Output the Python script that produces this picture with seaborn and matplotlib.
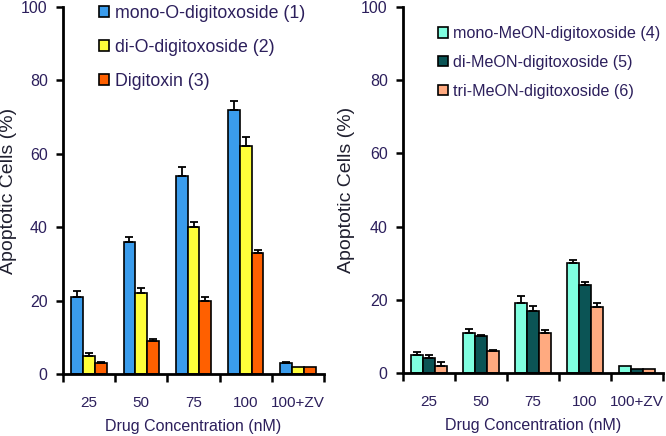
import matplotlib
matplotlib.use("Agg")
import matplotlib.pyplot as plt
import seaborn as sns
import pandas as pd
import numpy as np

concentrations = ["25", "50", "75", "100", "100+ZV"]

left_names = ["mono-O-digitoxoside (1)", "di-O-digitoxoside (2)", "Digitoxin (3)"]
mono_o = [21, 36, 54, 72, 3]
mono_o_err = [1.7, 1.3, 2.5, 2.5, 0.2]
di_o = [5, 22, 40, 62, 2]
di_o_err = [0.7, 1.5, 1.5, 2.5, 0.0]
digitoxin = [3, 9, 20, 33, 2]
digitoxin_err = [0.3, 0.5, 1.0, 0.8, 0.0]

right_names = ["mono-MeON-digitoxoside (4)", "di-MeON-digitoxoside (5)", "tri-MeON-digitoxoside (6)"]
mono_meon = [5, 11, 19, 30, 2]
mono_meon_err = [0.7, 1.0, 2.0, 1.0, 0.0]
di_meon = [4, 10, 17, 24, 1]
di_meon_err = [1.0, 0.3, 1.3, 1.0, 0.0]
tri_meon = [2, 6, 11, 18, 1]
tri_meon_err = [1.0, 0.3, 0.7, 1.0, 0.0]

left_colors = ["#3A9CEC", "#FFFF3A", "#FF6000"]
right_colors = ["#80FFE0", "#0B5455", "#FFAA80"]

sns.set_style("ticks")
plt.rcParams["font.family"] = ["Liberation Sans", "DejaVu Sans"]
TXT = "#2c1f5c"

fig = plt.figure(figsize=(6.66, 4.36), dpi=100)
ax1 = fig.add_axes([63/666, 1-374/436, (324-63)/666, (374-7)/436])
ax2 = fig.add_axes([403/666, 1-373/436, (663-403)/666, (373-7)/436])


def panel(ax, names, vals, errs, colors, legend_anchor, lspacing, ylab_x, lfs):
    rows = []
    for n, v in zip(names, vals):
        for c, y in zip(concentrations, v):
            rows.append({"conc": c, "val": y, "compound": n})
    df = pd.DataFrame(rows)
    sns.barplot(data=df, x="conc", y="val", hue="compound", order=concentrations,
                hue_order=names, palette=colors, width=0.68, edgecolor="black",
                linewidth=1.2, errorbar=None, ax=ax, saturation=1)
    for cont, e in zip(ax.containers, errs):
        xs = [p.get_x() + p.get_width()/2 for p in cont.patches]
        hs = [p.get_height() for p in cont.patches]
        e = np.array(e)
        mask = e > 0
        ax.errorbar(np.array(xs)[mask], np.array(hs)[mask],
                    yerr=[np.zeros(mask.sum()), e[mask]], fmt="none",
                    ecolor="black", elinewidth=1.3, capsize=3.2, capthick=1.3)
    ax.set_ylim(0, 100)
    ax.set_xlim(-0.5, 4.5)
    ax.set_yticks([0, 20, 40, 60, 80, 100])
    ax.set_xticks(range(5))
    ax.set_xticklabels(concentrations)
    ax.set_xticks(np.arange(-0.5, 5, 1), minor=True)
    ax.tick_params(axis="x", which="major", length=0, pad=16, labelsize=11, labelcolor=TXT)
    ax.tick_params(axis="x", which="minor", length=6, width=1.8, direction="out", color="black")
    ax.tick_params(axis="y", which="major", length=5, width=1.8, direction="out", pad=6,
                   labelsize=11.5, labelcolor=TXT, color="black")
    for s in ["top", "right"]:
        ax.spines[s].set_visible(False)
    for s in ["left", "bottom"]:
        ax.spines[s].set_linewidth(2)
        ax.spines[s].set_color("black")
    ax.set_xlabel("Drug Concentration (nM)", fontsize=11.5, color=TXT, labelpad=6)
    ax.set_ylabel("Apoptotic Cells (%)", fontsize=14, color="#202030")
    ax.yaxis.set_label_coords(ylab_x, 0.5)
    leg = ax.legend(loc="upper left", bbox_to_anchor=legend_anchor, frameon=False,
                    fontsize=lfs, handlelength=0.6, handleheight=0.6, handletextpad=0.3,
                    labelspacing=lspacing, borderaxespad=0)
    for t in leg.get_texts():
        t.set_color(TXT)
    for h in leg.legend_handles:
        h.set_edgecolor("black")
        h.set_linewidth(1.2)


panel(ax1, left_names, [mono_o, di_o, digitoxin], [mono_o_err, di_o_err, digitoxin_err],
      left_colors, (0.11, 1.025), 0.95, -0.175, 12.8)
panel(ax2, right_names, [mono_meon, di_meon, tri_meon], [mono_meon_err, di_meon_err, tri_meon_err],
      right_colors, (0.11, 0.965), 0.85, -0.185, 11.6)

fig.savefig("out.png", dpi=100)
